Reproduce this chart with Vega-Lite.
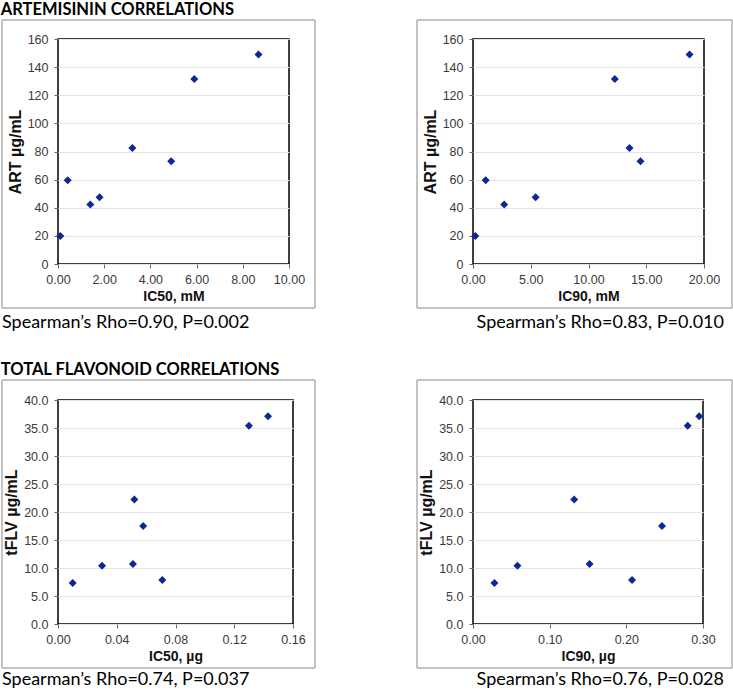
{
  "$schema": "https://vega.github.io/schema/vega-lite/v6.json",
  "background": "white",
  "padding": {"left": 0, "top": 2, "right": 0, "bottom": 0},
  "datasets": {
    "art": [
      {"ART": 20, "IC50": 0.1, "IC90": 0.2},
      {"ART": 59.5, "IC50": 0.42, "IC90": 1.1},
      {"ART": 42.3, "IC50": 1.4, "IC90": 2.7},
      {"ART": 47.5, "IC50": 1.8, "IC90": 5.42},
      {"ART": 82.5, "IC50": 3.22, "IC90": 13.55},
      {"ART": 73, "IC50": 4.9, "IC90": 14.5},
      {"ART": 131.5, "IC50": 5.9, "IC90": 12.28},
      {"ART": 149, "IC50": 8.68, "IC90": 18.75}
    ],
    "flv": [
      {"tFLV": 7.3, "IC50": 0.010, "IC90": 0.028},
      {"tFLV": 10.4, "IC50": 0.030, "IC90": 0.058},
      {"tFLV": 10.7, "IC50": 0.051, "IC90": 0.152},
      {"tFLV": 22.25, "IC50": 0.052, "IC90": 0.132},
      {"tFLV": 17.5, "IC50": 0.058, "IC90": 0.2465},
      {"tFLV": 7.85, "IC50": 0.071, "IC90": 0.2075},
      {"tFLV": 35.4, "IC50": 0.130, "IC90": 0.280},
      {"tFLV": 37.1, "IC50": 0.143, "IC90": 0.295}
    ]
  },
  "config": {
    "font": "Liberation Sans",
    "view": {"stroke": "#000", "strokeWidth": 1.5},
    "axis": {
      "labelFont": "Liberation Sans", "labelFontSize": 12.5, "labelColor": "#3a3a3a", "labelOverlap": false, "labelFlush": false,
      "titleFont": "Liberation Sans", "titleFontSize": 14, "titleFontWeight": "bold", "titleColor": "#111",
      "tickColor": "#666", "tickSize": 4, "domain": false, "gridColor": "#e4e4e4"
    },
    "axisX": {"grid": false, "labelPadding": 5, "titlePadding": 4},
    "axisY": {"grid": true, "labelPadding": 6, "titlePadding": 4, "titleFontSize": 16},
    "text": {"font": "Lato", "fontSize": 18, "color": "#000"}
  },
  "spacing": 29,
  "vconcat": [
    {
      "title": {"text": "ARTEMISININ CORRELATIONS", "anchor": "start", "font": "Lato", "color": "#000", "fontSize": 16.5, "fontWeight": "bold", "offset": 0},
      "spacing": 98,
      "hconcat": [
        {
          "width": 231, "height": 225,
          "layer": [
            {
              "data": {"name": "art"},
              "mark": {"type": "point", "shape": "diamond", "filled": true, "size": 64, "color": "#0a2896", "opacity": 1},
              "encoding": {
                "x": {"field": "IC50", "type": "quantitative", "scale": {"domain": [0, 10], "nice": false, "zero": false}, "axis": {"title": "IC50, mM", "values": [0, 2, 4, 6, 8, 10], "format": ".2f", "labelOverlap": false}},
                "y": {"field": "ART", "type": "quantitative", "scale": {"domain": [0, 160], "nice": false, "zero": false}, "axis": {"title": "ART µg/mL", "values": [0, 20, 40, 60, 80, 100, 120, 140, 160], "labelOverlap": false}}
              }
            },
            {
              "data": {"values": [{}]},
              "mark": {"type": "rect", "filled": false, "stroke": "#888", "strokeWidth": 1, "clip": false},
              "encoding": {
                "x": {"datum": -2.424, "type": "quantitative", "scale": {"domain": [0, 10], "nice": false, "zero": false}, "axis": {"title": "IC50, mM", "values": [0, 2, 4, 6, 8, 10], "format": ".2f", "labelOverlap": false}},
                "x2": {"datum": 11.126},
                "y": {"datum": -31.29, "type": "quantitative", "scale": {"domain": [0, 160], "nice": false, "zero": false}, "axis": {"title": "ART µg/mL", "values": [0, 20, 40, 60, 80, 100, 120, 140, 160], "labelOverlap": false}},
                "y2": {"datum": 173.51}
              }
            },
            {
              "data": {"values": [{"caption": "Spearman’s Rho=0.90, P=0.002"}]},
              "mark": {"type": "text", "align": "left", "baseline": "alphabetic", "clip": false},
              "encoding": {
                "x": {"datum": -2.424, "type": "quantitative", "scale": {"domain": [0, 10], "nice": false, "zero": false}, "axis": {"title": "IC50, mM", "values": [0, 2, 4, 6, 8, 10], "format": ".2f", "labelOverlap": false}},
                "y": {"datum": -45.51, "type": "quantitative", "scale": {"domain": [0, 160], "nice": false, "zero": false}, "axis": {"title": "ART µg/mL", "values": [0, 20, 40, 60, 80, 100, 120, 140, 160], "labelOverlap": false}},
                "text": {"field": "caption"}
              }
            }
          ]
        },
        {
          "width": 231, "height": 225,
          "layer": [
            {
              "data": {"name": "art"},
              "mark": {"type": "point", "shape": "diamond", "filled": true, "size": 64, "color": "#0a2896", "opacity": 1},
              "encoding": {
                "x": {"field": "IC90", "type": "quantitative", "scale": {"domain": [0, 20], "nice": false, "zero": false}, "axis": {"title": "IC90, mM", "values": [0, 5, 10, 15, 20], "format": ".2f", "labelOverlap": false}},
                "y": {"field": "ART", "type": "quantitative", "scale": {"domain": [0, 160], "nice": false, "zero": false}, "axis": {"title": "ART µg/mL", "values": [0, 20, 40, 60, 80, 100, 120, 140, 160], "labelOverlap": false}}
              }
            },
            {
              "data": {"values": [{}]},
              "mark": {"type": "rect", "filled": false, "stroke": "#888", "strokeWidth": 1, "clip": false},
              "encoding": {
                "x": {"datum": -4.848, "type": "quantitative", "scale": {"domain": [0, 20], "nice": false, "zero": false}, "axis": {"title": "IC90, mM", "values": [0, 5, 10, 15, 20], "format": ".2f", "labelOverlap": false}},
                "x2": {"datum": 22.424},
                "y": {"datum": -31.29, "type": "quantitative", "scale": {"domain": [0, 160], "nice": false, "zero": false}, "axis": {"title": "ART µg/mL", "values": [0, 20, 40, 60, 80, 100, 120, 140, 160], "labelOverlap": false}},
                "y2": {"datum": 173.51}
              }
            },
            {
              "data": {"values": [{"caption": "Spearman’s Rho=0.83, P=0.010"}]},
              "mark": {"type": "text", "align": "right", "baseline": "alphabetic", "clip": false},
              "encoding": {
                "x": {"datum": 21.73, "type": "quantitative", "scale": {"domain": [0, 20], "nice": false, "zero": false}, "axis": {"title": "IC90, mM", "values": [0, 5, 10, 15, 20], "format": ".2f", "labelOverlap": false}},
                "y": {"datum": -45.51, "type": "quantitative", "scale": {"domain": [0, 160], "nice": false, "zero": false}, "axis": {"title": "ART µg/mL", "values": [0, 20, 40, 60, 80, 100, 120, 140, 160], "labelOverlap": false}},
                "text": {"field": "caption"}
              }
            }
          ]
        }
      ]
    },
    {
      "title": {"text": "TOTAL FLAVONOID CORRELATIONS", "anchor": "start", "font": "Lato", "color": "#000", "fontSize": 16.5, "fontWeight": "bold", "offset": 0},
      "spacing": 98,
      "hconcat": [
        {
          "width": 235, "height": 224,
          "layer": [
            {
              "data": {"name": "flv"},
              "mark": {"type": "point", "shape": "diamond", "filled": true, "size": 64, "color": "#0a2896", "opacity": 1},
              "encoding": {
                "x": {"field": "IC50", "type": "quantitative", "scale": {"domain": [0, 0.16], "nice": false, "zero": false}, "axis": {"title": "IC50, µg", "values": [0, 0.04, 0.08, 0.12, 0.16], "format": ".2f", "labelOverlap": false}},
                "y": {"field": "tFLV", "type": "quantitative", "scale": {"domain": [0, 40], "nice": false, "zero": false}, "axis": {"title": "tFLV µg/mL", "values": [0, 5, 10, 15, 20, 25, 30, 35, 40], "format": ".1f", "labelOverlap": false}}
              }
            },
            {
              "data": {"values": [{}]},
              "mark": {"type": "rect", "filled": false, "stroke": "#888", "strokeWidth": 1, "clip": false},
              "encoding": {
                "x": {"datum": -0.03813, "type": "quantitative", "scale": {"domain": [0, 0.16], "nice": false, "zero": false}, "axis": {"title": "IC50, µg", "values": [0, 0.04, 0.08, 0.12, 0.16], "format": ".2f", "labelOverlap": false}},
                "x2": {"datum": 0.17498},
                "y": {"datum": -7.857, "type": "quantitative", "scale": {"domain": [0, 40], "nice": false, "zero": false}, "axis": {"title": "tFLV µg/mL", "values": [0, 5, 10, 15, 20, 25, 30, 35, 40], "format": ".1f", "labelOverlap": false}},
                "y2": {"datum": 43.571}
              }
            },
            {
              "data": {"values": [{"caption": "Spearman’s Rho=0.74, P=0.037"}]},
              "mark": {"type": "text", "align": "left", "baseline": "alphabetic", "clip": false},
              "encoding": {
                "x": {"datum": -0.03813, "type": "quantitative", "scale": {"domain": [0, 0.16], "nice": false, "zero": false}, "axis": {"title": "IC50, µg", "values": [0, 0.04, 0.08, 0.12, 0.16], "format": ".2f", "labelOverlap": false}},
                "y": {"datum": -10.893, "type": "quantitative", "scale": {"domain": [0, 40], "nice": false, "zero": false}, "axis": {"title": "tFLV µg/mL", "values": [0, 5, 10, 15, 20, 25, 30, 35, 40], "format": ".1f", "labelOverlap": false}},
                "text": {"field": "caption"}
              }
            }
          ]
        },
        {
          "width": 230, "height": 224,
          "layer": [
            {
              "data": {"name": "flv"},
              "mark": {"type": "point", "shape": "diamond", "filled": true, "size": 64, "color": "#0a2896", "opacity": 1},
              "encoding": {
                "x": {"field": "IC90", "type": "quantitative", "scale": {"domain": [0, 0.3], "nice": false, "zero": false}, "axis": {"title": "IC90, µg", "values": [0, 0.1, 0.2, 0.3], "format": ".2f", "labelOverlap": false}},
                "y": {"field": "tFLV", "type": "quantitative", "scale": {"domain": [0, 40], "nice": false, "zero": false}, "axis": {"title": "tFLV µg/mL", "values": [0, 5, 10, 15, 20, 25, 30, 35, 40], "format": ".1f", "labelOverlap": false}}
              }
            },
            {
              "data": {"values": [{}]},
              "mark": {"type": "rect", "filled": false, "stroke": "#888", "strokeWidth": 1, "clip": false},
              "encoding": {
                "x": {"datum": -0.07304, "type": "quantitative", "scale": {"domain": [0, 0.3], "nice": false, "zero": false}, "axis": {"title": "IC90, µg", "values": [0, 0.1, 0.2, 0.3], "format": ".2f", "labelOverlap": false}},
                "x2": {"datum": 0.33783},
                "y": {"datum": -7.857, "type": "quantitative", "scale": {"domain": [0, 40], "nice": false, "zero": false}, "axis": {"title": "tFLV µg/mL", "values": [0, 5, 10, 15, 20, 25, 30, 35, 40], "format": ".1f", "labelOverlap": false}},
                "y2": {"datum": 43.571}
              }
            },
            {
              "data": {"values": [{"caption": "Spearman’s Rho=0.76, P=0.028"}]},
              "mark": {"type": "text", "align": "right", "baseline": "alphabetic", "clip": false},
              "encoding": {
                "x": {"datum": 0.32739, "type": "quantitative", "scale": {"domain": [0, 0.3], "nice": false, "zero": false}, "axis": {"title": "IC90, µg", "values": [0, 0.1, 0.2, 0.3], "format": ".2f", "labelOverlap": false}},
                "y": {"datum": -10.893, "type": "quantitative", "scale": {"domain": [0, 40], "nice": false, "zero": false}, "axis": {"title": "tFLV µg/mL", "values": [0, 5, 10, 15, 20, 25, 30, 35, 40], "format": ".1f", "labelOverlap": false}},
                "text": {"field": "caption"}
              }
            }
          ]
        }
      ]
    }
  ]
}
